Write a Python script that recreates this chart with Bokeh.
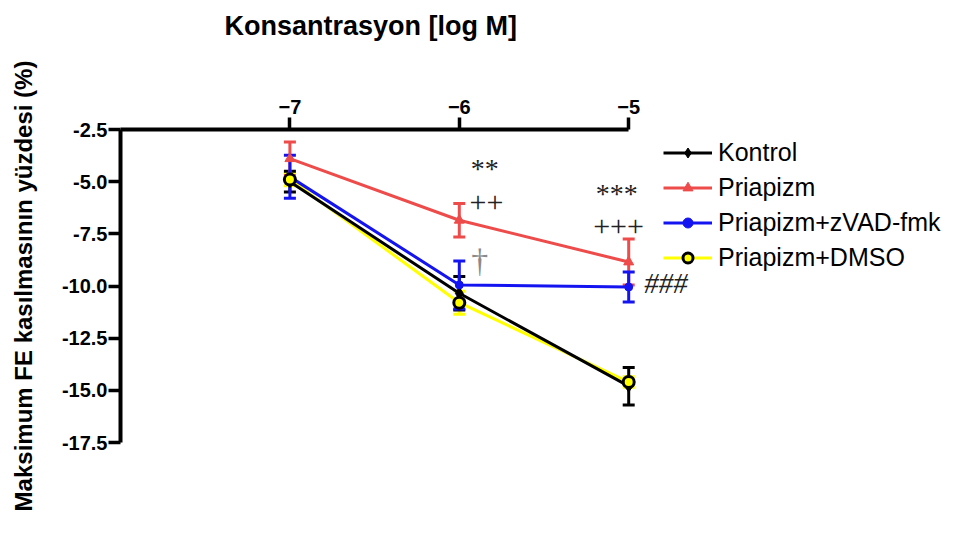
from bokeh.plotting import figure
from bokeh.models import (FixedTicker, PrintfTickFormatter, Legend, LegendItem,
                          Label, Whisker, ColumnDataSource)
from bokeh.embed import file_html
from bokeh.resources import INLINE

# log concentration
conc = [-7, -6, -5]

# mean contraction (%) and error for each group
kontrol = [-5.0, -10.35, -14.8]
kontrol_err = [0.5, 0.8, 0.9]
priapizm = [-3.9, -6.85, -8.85]
priapizm_err = [0.8, 0.8, 1.1]
zvad = [-4.77, -9.95, -10.05]
zvad_err = [1.03, 1.15, 0.72]
dmso = [-4.9, -10.8, -14.6]
dmso_err = [0.3, 0.55, 0.25]

y_ticks = [-2.5, -5.0, -7.5, -10.0, -12.5, -15.0, -17.5]
x_ticks = [-7, -6, -5]

# significance marks
ann_text = ["**", "++", "\u2020", "***", "+++", "###"]
ann_x = [-5.85, -5.84, -5.88, -5.07, -5.06, -4.78]
ann_y = [-4.35, -6.0, -8.8, -5.55, -7.15, -9.85]
ann_size = ["28px", "30px", "34px", "28px", "30px", "29px"]
ann_style = ["normal", "normal", "normal", "normal", "normal", "italic"]
ann_color = ["#222222", "#222222", "#8a8a8a", "#222222", "#222222", "#222222"]

FONT = "Liberation Sans"

# the frame runs on to the right edge so the legend and marks beside it stay visible;
# the x axis itself is bounded to -8 .. -5
p = figure(width=978, height=535,
           x_range=(-8, -3), y_range=(-17.5, -2.5),
           x_axis_location="above",
           output_backend="svg", toolbar_location=None,
           min_border_left=120, min_border_right=11,
           min_border_top=129, min_border_bottom=93)
p.outline_line_color = None
p.xgrid.grid_line_color = None
p.ygrid.grid_line_color = None
p.background_fill_color = "white"
p.border_fill_color = "white"

# x axis title, placed over the bounded axis
p.title.text = "Konsantrasyon [log M]"
p.title.text_font = FONT
p.title.text_font_style = "bold"
p.title.text_font_size = "27px"
p.title.text_color = "black"
p.title.align = "left"
p.title.offset = 104
p.title.standoff = 2

# axes
for ax in (p.xaxis[0], p.yaxis[0]):
    ax.axis_line_width = 4
    ax.major_tick_line_width = 3.5
    ax.major_tick_out = 12
    ax.major_tick_in = 0
    ax.minor_tick_line_color = None
    ax.major_label_text_font = FONT
    ax.major_label_text_font_style = "bold"
    ax.major_label_text_font_size = "20px"
    ax.major_label_text_color = "black"
    ax.axis_label_text_font = FONT
    ax.axis_label_text_font_style = "bold"
    ax.axis_label_text_color = "black"

p.xaxis.bounds = (-8, -5)
p.xaxis.ticker = FixedTicker(ticks=x_ticks)
p.xaxis.major_label_standoff = 4
# blank spacer label: keeps the title clear of the tick labels
p.xaxis.axis_label = " "
p.xaxis.axis_label_text_font_size = "27px"
p.xaxis.axis_label_standoff = 22

p.yaxis.ticker = FixedTicker(ticks=y_ticks)
p.yaxis.formatter = PrintfTickFormatter(format="%.1f")
p.yaxis.major_label_standoff = 1
p.yaxis.axis_label = "Maksimum FE kasılmasının yüzdesi (%)"
p.yaxis.axis_label_text_font_size = "24px"
p.yaxis.axis_label_standoff = 22

RED = "#EE4B4B"
BLUE = "#1414F0"
YEL = "#FFFF00"

groups = [
    ("Kontrol", kontrol, kontrol_err, "black"),
    ("Priapizm", priapizm, priapizm_err, RED),
    ("Priapizm+zVAD-fmk", zvad, zvad_err, BLUE),
    ("Priapizm+DMSO", dmso, dmso_err, YEL),
]
colors = {g[0]: g[3] for g in groups}

sources = {}
for name, mean, err, col in groups:
    sources[name] = ColumnDataSource(dict(
        x=conc, y=mean,
        lo=[m - e for m, e in zip(mean, err)],
        hi=[m + e for m, e in zip(mean, err)]))

draw_order = ["Priapizm+DMSO", "Kontrol", "Priapizm", "Priapizm+zVAD-fmk"]

lines = {}
for name in draw_order:
    lines[name] = p.line("x", "y", source=sources[name],
                         line_color=colors[name], line_width=3)

# error bars with caps
for name in draw_order:
    col = colors[name]
    w = Whisker(source=sources[name], base="x", lower="lo", upper="hi",
                line_color=col, line_width=3)
    for head in (w.upper_head, w.lower_head):
        head.size = 12
        head.line_color = col
        head.line_width = 3
    p.add_layout(w)

markers = {}
markers["Kontrol"] = p.scatter("x", "y", source=sources["Kontrol"], marker="diamond",
                               size=12, fill_color="black", line_color="black")
markers["Priapizm"] = p.scatter("x", "y", source=sources["Priapizm"], marker="triangle",
                                size=10, fill_color=RED, line_color=RED)
markers["Priapizm+zVAD-fmk"] = p.scatter("x", "y", source=sources["Priapizm+zVAD-fmk"],
                                         marker="circle", size=8, fill_color=BLUE,
                                         line_color=BLUE)
markers["Priapizm+DMSO"] = p.scatter("x", "y", source=sources["Priapizm+DMSO"],
                                     marker="circle", size=11, fill_color=YEL,
                                     line_color="black", line_width=3)

items = [LegendItem(label=name, renderers=[lines[name], markers[name]])
         for name, _, _, _ in groups]
legend = Legend(items=items, location=(543, 170),
                label_text_font=FONT, label_text_font_size="25px",
                label_text_color="black",
                glyph_width=49, glyph_height=25, label_height=25,
                label_standoff=6, spacing=6, padding=0, margin=0,
                border_line_color=None, background_fill_alpha=0)
p.add_layout(legend, "center")

for t, x, y, s, st, c in zip(ann_text, ann_x, ann_y, ann_size, ann_style, ann_color):
    p.add_layout(Label(x=x, y=y, text=t, text_color=c,
                       text_font="Liberation Serif", text_font_size=s,
                       text_font_style=st,
                       text_align="center", text_baseline="middle"))

open("out.html", "w").write(file_html(p, INLINE))
